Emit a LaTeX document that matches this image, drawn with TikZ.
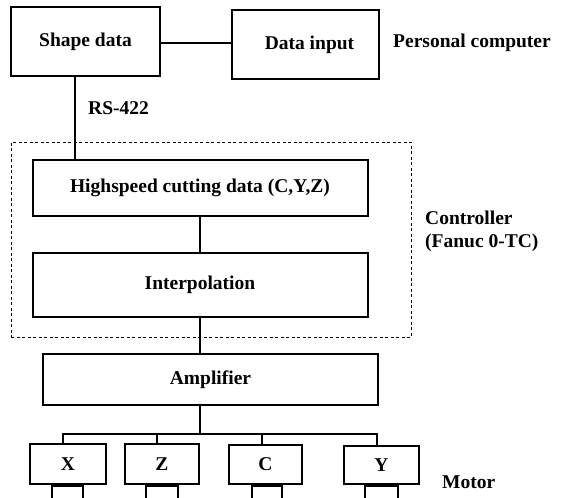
\documentclass[tikz,border=0pt]{standalone}
\usepackage{fontspec}
\setmainfont{Liberation Serif}
\begin{document}
\begin{tikzpicture}[x=1pt,y=1pt,
  box/.style={draw,line width=2pt,minimum width=#1,inner sep=0pt,font=\fontsize{19.5}{21}\selectfont\bfseries},
  lbl/.style={font=\fontsize{19.5}{23}\selectfont\bfseries,inner sep=0pt,anchor=west,align=left},
  wire/.style={line width=2pt},
  shaft/.style={draw,line width=1.8pt,minimum height=13pt,inner sep=0pt}]
\useasboundingbox (0,0) rectangle (563,-498);
% controller frame
\node[draw,line width=0.9pt,dash pattern=on 3pt off 2.5pt,minimum width=400pt,minimum height=195pt,inner sep=0pt] (ctrl) at (211,-239.5) {};
% boxes
\node[box=149pt,minimum height=69pt] (sd) at (85.5,-41.5) {Shape data};
\node[box=147pt,minimum height=69pt] (di) at (305.5,-44.5) {\hspace*{8pt}Data input};
\node[box=335pt,minimum height=56pt] (hs) at (200,-188) {Highspeed cutting data (C,Y,Z)};
\node[box=335pt,minimum height=64pt] (ip) at (200,-285) {Interpolation};
\node[box=335pt,minimum height=51pt] (amp) at (210.5,-379.5) {Amplifier};
\node[box=76pt,minimum height=40pt] (mx) at (68,-464) {X};
\node[box=74pt,minimum height=40pt] (mz) at (162,-464) {Z};
\node[box=73pt,minimum height=39pt] (mc) at (265.5,-464.5) {C};
\node[box=75pt,minimum height=38pt] (my) at (381.5,-465) {Y};
% shafts
\node[shaft,minimum width=31pt,anchor=north] (sx) at ([xshift=-0.5pt]mx.south) {};
\node[shaft,minimum width=32pt,anchor=north] (sz) at (mz.south) {};
\node[shaft,minimum width=30pt,anchor=north] (sc) at ([xshift=1.5pt]mc.south) {};
\node[shaft,minimum width=33pt,anchor=north] (sy) at (my.south) {};
% labels
\node[lbl] (pc) at (393,-43) {Personal computer};
\node[lbl] (rs) at (88,-108) {RS-422};
\node[lbl] (cl) at (425,-231) {Controller\\(Fanuc 0-TC)};
\node[lbl] (ml) at (442,-482) {Motor};
% connectors
\draw[wire] (sd.east |- 0,-43) -- (di.west |- 0,-43);
\draw[wire] ([xshift=-10.5pt]sd.south) -- ([xshift=-10.5pt]sd.south |- hs.north);
\draw[wire] (hs.south) -- (ip.north);
\draw[wire] (ip.south) -- (ip.south |- amp.north);
\coordinate (bus) at (200,-434);
\draw[wire] (ip.south |- amp.south) -- (bus);
\draw[wire] ([xshift=-5pt]mx.north) |- (bus) -| ([xshift=-4.5pt]my.north);
\draw[wire] ([xshift=-5pt]mz.north) -- ([xshift=-5pt]mz.north |- bus);
\draw[wire] ([xshift=-3.5pt]mc.north) -- ([xshift=-3.5pt]mc.north |- bus);
\end{tikzpicture}
\end{document}
